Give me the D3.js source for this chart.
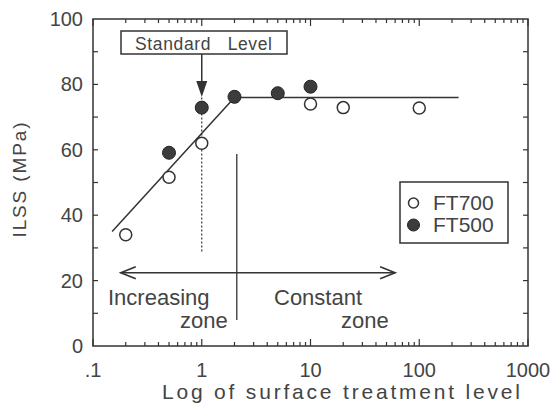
<!DOCTYPE html>
<html>
<head>
<meta charset="utf-8">
<script src="https://cdn.jsdelivr.net/npm/d3@7"></script>
<style>
  body { margin: 0; background: #fff; }
  svg text { font-family: "Liberation Sans", Arial, sans-serif; fill: #444; }
</style>
</head>
<body>
<svg id="chart" width="553" height="404"></svg>
<script>
// data
let ft700X = [0.2, 0.5, 1, 10, 20, 100];
let ft700Y = [34, 51.6, 62, 74, 72.9, 72.8];
let ft500X = [0.5, 1, 2, 5, 10];
let ft500Y = [59.1, 72.9, 76.2, 77.3, 79.3];
let fitX = [0.15, 2, 230];
let fitY = [35, 76, 76];
let xTicks = [0.1, 1, 10, 100, 1000];
let xTickLabels = ['.1', '1', '10', '100', '1000'];
let yTicks = [0, 20, 40, 60, 80, 100];

const svg = d3.select('#chart');
const plotLeft = 93, plotRight = 528, plotTop = 19, plotBottom = 346;
const ink = '#333';

let x = d3.scaleLog().domain([0.1, 1000]).range([plotLeft, plotRight]);
let y = d3.scaleLinear().domain([0, 100]).range([plotBottom, plotTop]);

// frame
svg.append('rect')
    .attr('x', plotLeft).attr('y', plotTop)
    .attr('width', plotRight - plotLeft).attr('height', plotBottom - plotTop)
    .attr('fill', 'none').attr('stroke', ink).attr('stroke-width', 1.5);

// minor / major ticks, all pointing inward
let minor = [];
for (let d = 0.1; d < 999; d *= 10) {
    for (let k = 2; k < 10; k++) minor.push(d * k);
}
let g = svg.append('g').attr('stroke', ink).attr('stroke-width', 1.2);
minor.forEach(function(v) {
    g.append('line').attr('x1', x(v)).attr('x2', x(v)).attr('y1', plotBottom).attr('y2', plotBottom - 4);
    g.append('line').attr('x1', x(v)).attr('x2', x(v)).attr('y1', plotTop).attr('y2', plotTop + 4);
});
xTicks.forEach(function(v) {
    g.append('line').attr('x1', x(v)).attr('x2', x(v)).attr('y1', plotBottom).attr('y2', plotBottom - 7);
    g.append('line').attr('x1', x(v)).attr('x2', x(v)).attr('y1', plotTop).attr('y2', plotTop + 7);
});
for (let v = 10; v < 100; v += 10) {
    g.append('line').attr('x1', plotLeft).attr('x2', plotLeft + 5).attr('y1', y(v)).attr('y2', y(v));
    g.append('line').attr('x1', plotRight).attr('x2', plotRight - 5).attr('y1', y(v)).attr('y2', y(v));
}

// tick labels
svg.selectAll('.xl').data(xTicks).enter().append('text')
    .attr('x', d => x(d)).attr('y', 377)
    .attr('text-anchor', 'middle').attr('font-size', 20)
    .text((d, i) => xTickLabels[i]);
svg.selectAll('.yl').data(yTicks).enter().append('text')
    .attr('x', 83).attr('y', d => y(d) + 7)
    .attr('text-anchor', 'end').attr('font-size', 20)
    .text(d => d);

// axis titles
svg.append('text').attr('x', 162).attr('y', 399)
    .attr('font-size', 21)
    .attr('textLength', 358).attr('lengthAdjust', 'spacing')
    .text('Log of surface treatment level');
svg.append('text')
    .attr('transform', 'translate(26,180) rotate(-90)')
    .attr('text-anchor', 'middle').attr('font-size', 19)
    .attr('textLength', 115).attr('lengthAdjust', 'spacing')
    .text('ILSS (MPa)');

// fit line
let line = d3.line().x((d, i) => x(fitX[i])).y((d, i) => y(fitY[i]));
svg.append('path').datum(fitX).attr('d', line)
    .attr('fill', 'none').attr('stroke', ink).attr('stroke-width', 1.5);

// standard level: dotted line, arrow, box
svg.append('line')
    .attr('x1', x(1)).attr('x2', x(1)).attr('y1', y(76)).attr('y2', y(28.4))
    .attr('stroke', ink).attr('stroke-width', 1.2).attr('stroke-dasharray', '2,2');
svg.append('line')
    .attr('x1', x(1)).attr('x2', x(1)).attr('y1', 54).attr('y2', 88)
    .attr('stroke', ink).attr('stroke-width', 1.5);
svg.append('path')
    .attr('d', 'M' + (x(1) - 5.5) + ',81 L' + x(1) + ',97 L' + (x(1) + 5.5) + ',81 Z')
    .attr('fill', ink);
svg.append('rect').attr('x', 121).attr('y', 31).attr('width', 166).attr('height', 23)
    .attr('fill', '#fff').attr('stroke', ink).attr('stroke-width', 1.5);
svg.append('text').attr('x', 135).attr('y', 50)
    .attr('font-size', 17.5).attr('xml:space', 'preserve')
    .attr('textLength', 137).attr('lengthAdjust', 'spacing')
    .text('Standard   Level');

// zone divider
svg.append('line')
    .attr('x1', x(2.1)).attr('x2', x(2.1)).attr('y1', 154).attr('y2', 320)
    .attr('stroke', ink).attr('stroke-width', 1.3);

// double arrow
let ay = y(22.4);
let ax1 = x(0.18), ax2 = x(60);
svg.append('line').attr('x1', ax1).attr('x2', ax2).attr('y1', ay).attr('y2', ay)
    .attr('stroke', ink).attr('stroke-width', 1.3);
svg.append('path')
    .attr('d', 'M' + (ax1 + 15) + ',' + (ay - 6) + ' L' + ax1 + ',' + ay + ' L' + (ax1 + 15) + ',' + (ay + 6))
    .attr('fill', 'none').attr('stroke', ink).attr('stroke-width', 1.6);
svg.append('path')
    .attr('d', 'M' + (ax2 - 15) + ',' + (ay - 6) + ' L' + ax2 + ',' + ay + ' L' + (ax2 - 15) + ',' + (ay + 6))
    .attr('fill', 'none').attr('stroke', ink).attr('stroke-width', 1.6);

svg.append('text').attr('x', 108).attr('y', 305).attr('font-size', 22).text('Increasing');
svg.append('text').attr('x', 180).attr('y', 328).attr('font-size', 22).text('zone');
svg.append('text').attr('x', 274).attr('y', 305).attr('font-size', 22).text('Constant');
svg.append('text').attr('x', 341).attr('y', 328).attr('font-size', 22).text('zone');

// points
svg.selectAll('.open').data(ft700X).enter().append('circle')
    .attr('cx', d => x(d)).attr('cy', (d, i) => y(ft700Y[i])).attr('r', 6)
    .attr('fill', '#fff').attr('stroke', ink).attr('stroke-width', 1.5);
svg.selectAll('.filled').data(ft500X).enter().append('circle')
    .attr('cx', d => x(d)).attr('cy', (d, i) => y(ft500Y[i])).attr('r', 6.5)
    .attr('fill', '#3c3c3c').attr('stroke', '#222').attr('stroke-width', 1);

// legend
svg.append('rect').attr('x', 400).attr('y', 182).attr('width', 108).attr('height', 61)
    .attr('fill', '#fff').attr('stroke', ink).attr('stroke-width', 1.5);
svg.append('circle').attr('cx', 413.5).attr('cy', 203).attr('r', 5)
    .attr('fill', '#fff').attr('stroke', ink).attr('stroke-width', 1.5);
svg.append('circle').attr('cx', 413.5).attr('cy', 225).attr('r', 6)
    .attr('fill', '#3c3c3c').attr('stroke', '#222').attr('stroke-width', 1);
svg.append('text').attr('x', 433).attr('y', 210).attr('font-size', 21).text('FT700');
svg.append('text').attr('x', 433).attr('y', 232).attr('font-size', 21).text('FT500');
</script>
</body>
</html>
